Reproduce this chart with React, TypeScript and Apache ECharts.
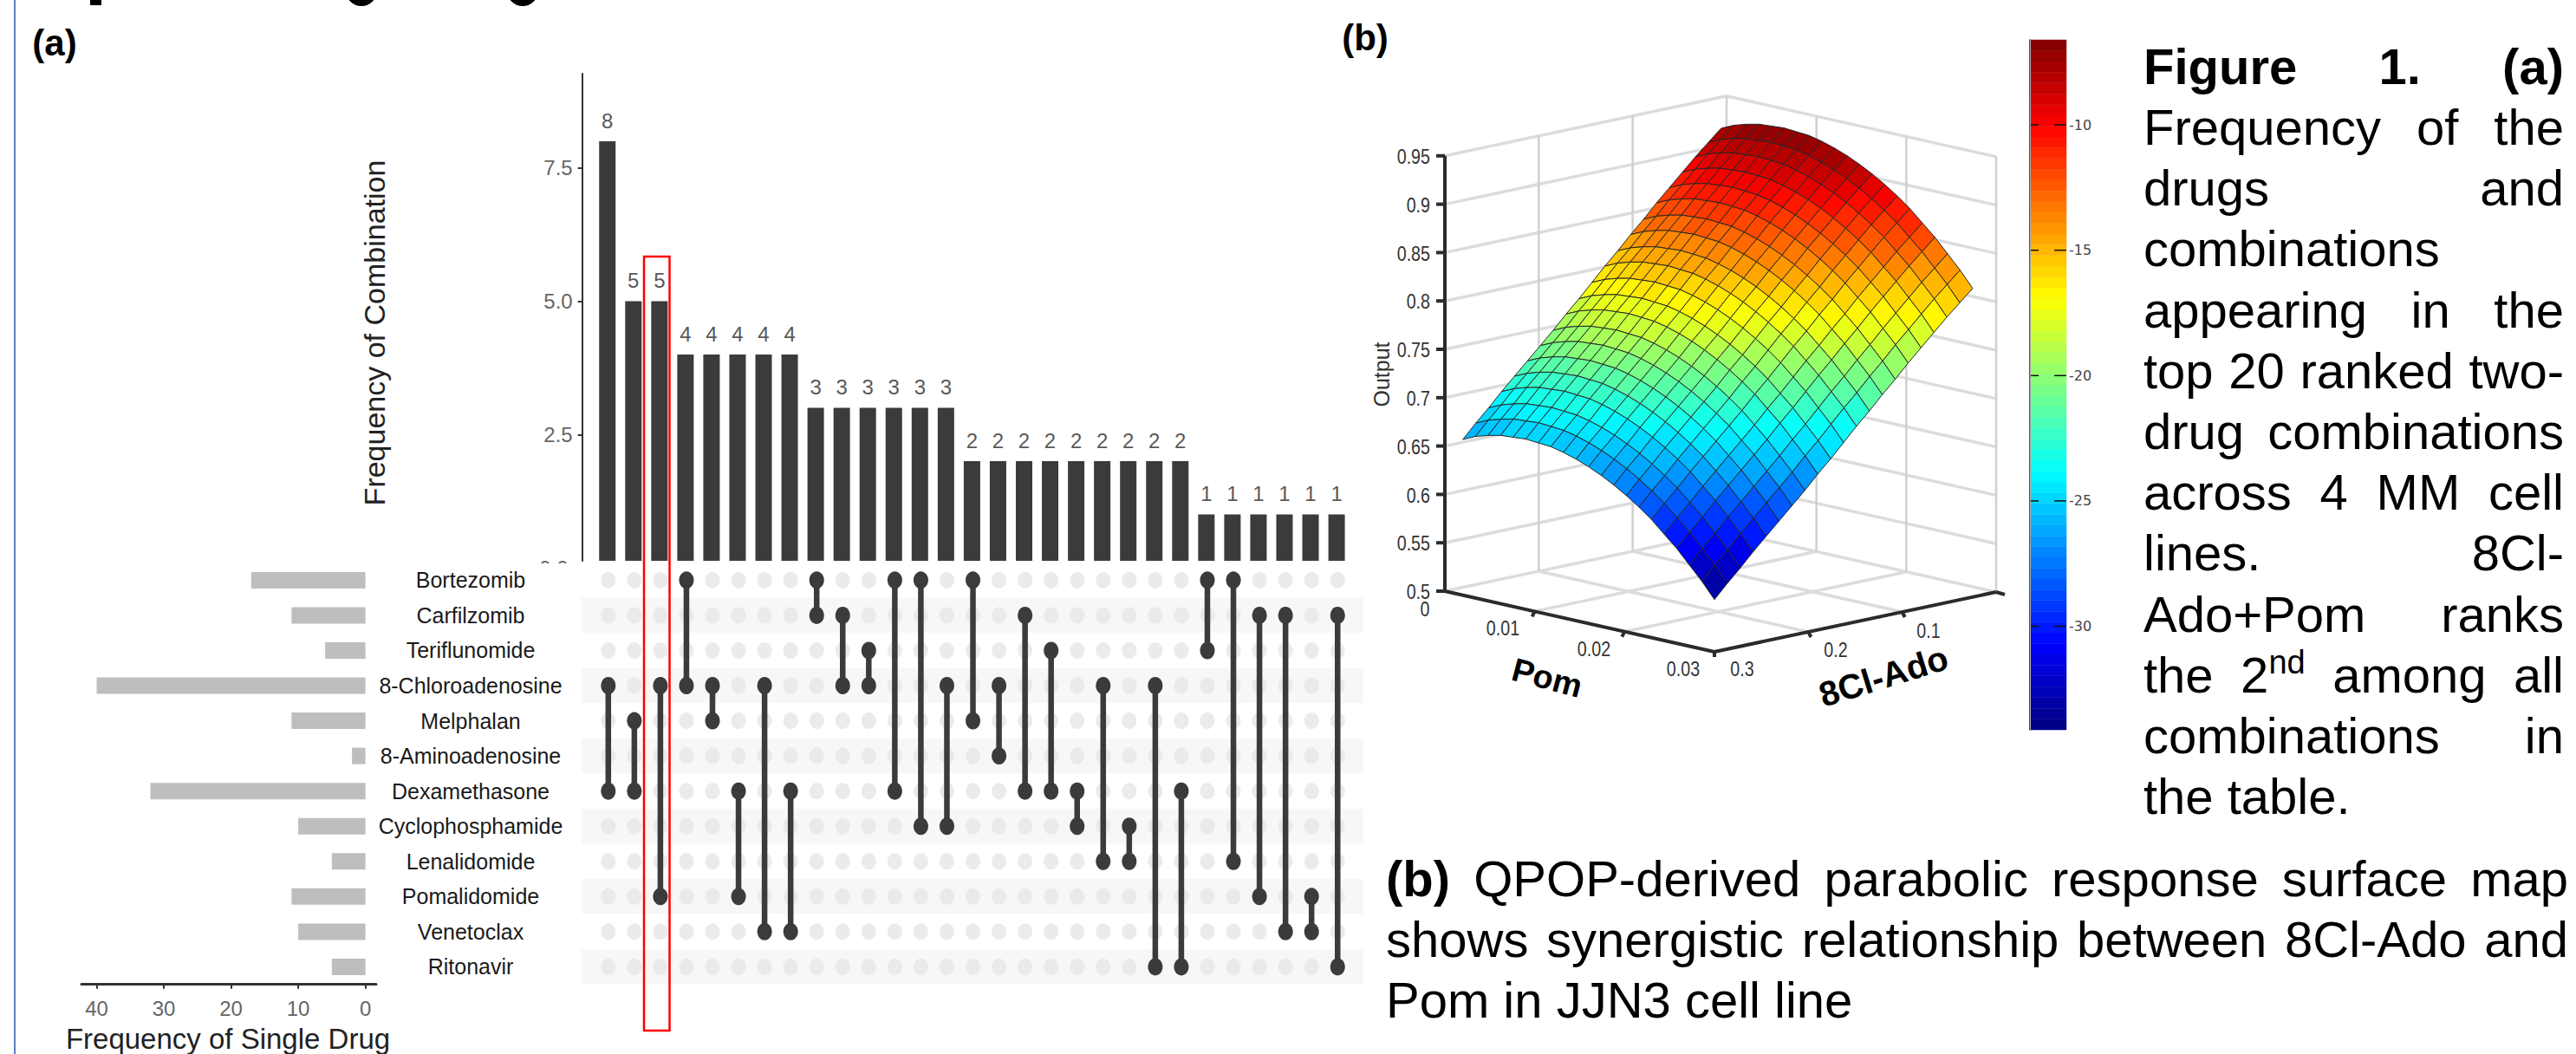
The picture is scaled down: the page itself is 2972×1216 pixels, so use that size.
import React, { useEffect, useRef } from "react";
import * as echarts from "echarts";

const WIDTH = 2972;
const HEIGHT = 1216;
const FONT = '"Liberation Sans", Arial, sans-serif';
const NARROW_SCALE = 0.82;

// ---------- (a) UpSet plot ----------
const drugs = [
  "Bortezomib", "Carfilzomib", "Teriflunomide", "8-Chloroadenosine", "Melphalan", "8-Aminoadenosine",
  "Dexamethasone", "Cyclophosphamide", "Lenalidomide", "Pomalidomide", "Venetoclax", "Ritonavir",
];
const singleDrugFrequency = [17, 11, 6, 40, 11, 2, 32, 10, 5, 11, 10, 5];
const combinationFrequency = [8, 5, 5, 4, 4, 4, 4, 4, 3, 3, 3, 3, 3, 3, 2, 2, 2, 2, 2, 2, 2, 2, 2, 1, 1, 1, 1, 1, 1];
const combinationPairs = [
  [3, 6], [4, 6], [3, 9], [0, 3], [3, 4], [6, 9], [3, 10], [6, 10], [0, 1], [1, 3],
  [2, 3], [0, 6], [0, 7], [3, 7], [0, 4], [3, 5], [1, 6], [2, 6], [6, 7], [3, 8],
  [7, 8], [3, 11], [6, 11], [0, 2], [0, 8], [1, 9], [1, 10], [9, 10], [1, 11],
];
const combinationTicks = [2.5, 5, 7.5];
const singleDrugTicks = [0, 10, 20, 30, 40];

// ---------- (b) response surface ----------
const pomLevels = [0.002, 0.0034, 0.0048, 0.0062, 0.0076, 0.009, 0.0104, 0.0118, 0.0132, 0.0146, 0.016, 0.0174, 0.0188, 0.0202, 0.0216, 0.023, 0.0244, 0.0258, 0.0272, 0.0286, 0.03];
const adoLevels = [0.025, 0.03875, 0.0525, 0.06625, 0.08, 0.09375, 0.1075, 0.12125, 0.135, 0.14875, 0.1625, 0.17625, 0.19, 0.20375, 0.2175, 0.23125, 0.245, 0.25875, 0.2725, 0.28625, 0.3];
const outputSurface = [
  [.926, .932, .936, .939, .940, .941, .940, .939, .936, .932, .927, .921, .914, .906, .897, .887, .875, .863, .849, .835, .819],
  [.914, .920, .924, .927, .928, .929, .928, .927, .924, .920, .915, .909, .902, .894, .885, .875, .863, .851, .837, .823, .807],
  [.902, .908, .912, .915, .916, .917, .916, .915, .912, .908, .903, .897, .890, .882, .873, .863, .851, .839, .825, .811, .795],
  [.889, .895, .899, .902, .903, .904, .903, .902, .899, .895, .890, .884, .877, .869, .860, .850, .838, .826, .812, .798, .782],
  [.876, .882, .886, .889, .890, .891, .890, .889, .886, .882, .877, .871, .864, .856, .847, .837, .825, .813, .799, .785, .769],
  [.863, .869, .873, .876, .877, .878, .877, .876, .873, .869, .864, .858, .851, .843, .834, .824, .812, .800, .786, .772, .756],
  [.849, .855, .859, .862, .863, .864, .863, .862, .859, .855, .850, .844, .837, .829, .820, .810, .798, .786, .772, .758, .742],
  [.836, .842, .846, .849, .850, .851, .850, .849, .846, .842, .837, .831, .824, .816, .807, .797, .785, .773, .759, .745, .729],
  [.822, .828, .832, .835, .836, .837, .836, .835, .832, .828, .823, .817, .810, .802, .793, .783, .771, .759, .745, .731, .715],
  [.809, .815, .819, .822, .823, .824, .823, .822, .819, .815, .810, .804, .797, .789, .780, .770, .758, .746, .732, .718, .702],
  [.795, .801, .805, .808, .809, .810, .809, .808, .805, .801, .796, .790, .783, .775, .766, .756, .744, .732, .718, .704, .688],
  [.781, .787, .791, .794, .795, .796, .795, .794, .791, .787, .782, .776, .769, .761, .752, .742, .730, .718, .704, .690, .674],
  [.768, .774, .778, .781, .782, .783, .782, .781, .778, .774, .769, .763, .756, .748, .739, .729, .717, .705, .691, .677, .661],
  [.754, .760, .764, .767, .768, .769, .768, .767, .764, .760, .755, .749, .742, .734, .725, .715, .703, .691, .677, .663, .647],
  [.741, .747, .751, .754, .755, .756, .755, .754, .751, .747, .742, .736, .729, .721, .712, .702, .690, .678, .664, .650, .634],
  [.728, .734, .738, .741, .742, .743, .742, .741, .738, .734, .729, .723, .716, .708, .699, .689, .677, .665, .651, .637, .621],
  [.715, .721, .725, .728, .729, .730, .729, .728, .725, .721, .716, .710, .703, .695, .686, .676, .664, .652, .638, .624, .608],
  [.702, .708, .712, .715, .716, .717, .716, .715, .712, .708, .703, .697, .690, .682, .673, .663, .651, .639, .625, .611, .595],
  [.688, .694, .698, .701, .702, .703, .702, .701, .698, .694, .689, .683, .676, .668, .659, .649, .637, .625, .611, .597, .581],
  [.675, .681, .685, .688, .689, .690, .689, .688, .685, .681, .676, .670, .663, .655, .646, .636, .624, .612, .598, .584, .568],
  [.661, .667, .671, .674, .675, .676, .675, .674, .671, .667, .662, .656, .649, .641, .632, .622, .610, .598, .584, .570, .554],
];
const outputTicks = [0.5, 0.55, 0.6, 0.65, 0.7, 0.75, 0.8, 0.85, 0.9, 0.95];
const pomTicks = [0.01, 0.02];
const adoTicks = [0.1, 0.2];
const colorbarTicks = [-10, -15, -20, -25, -30];

// ---------- captions ----------
const captionLines = [
  "Figure 1. (a)", "Frequency of the", "drugs and", "combinations", "appearing in the", "top 20 ranked two-",
  "drug combinations", "across 4 MM cell", "lines. 8Cl-", "Ado+Pom ranks", "the 2nd among all", "combinations in", "the table.",
];
const captionLeftAligned = ["combinations", "the table."];
const bottomLines = [
  "(b) QPOP-derived parabolic response surface map",
  "shows synergistic relationship between 8Cl-Ado and",
  "Pom in JJN3 cell line",
];

// ---------- projection of the 3D box onto the page plane ----------
const POM_MAX = 0.03;
const ADO_MAX = 0.3;
const Z_MIN = 0.5;
function project(pom: number, ado: number, z: number): [number, number] {
  const x = 1992 + (311 * pom) / POM_MAX - (325 * ado) / ADO_MAX;
  const y = 613 + (70 * pom) / POM_MAX + (69 * ado) / ADO_MAX - (z - Z_MIN) * 1116;
  return [x, y];
}

function jet(t: number): string {
  const c = (v: number) => Math.round(255 * Math.max(0, Math.min(1, v)));
  return `rgb(${c(1.5 - Math.abs(4 * t - 3))},${c(1.5 - Math.abs(4 * t - 2))},${c(1.5 - Math.abs(4 * t - 1))})`;
}
const zLow = outputSurface[20][20];
const zHigh = outputSurface[0][5];
const LEVELS = 64;
function surfaceColor(z: number): string {
  const t = (z - zLow) / (zHigh - zLow);
  const k = Math.min(LEVELS - 1, Math.floor(t * LEVELS));
  return jet((k + 0.5) / LEVELS);
}

const CB_MIN = -34.13;
const CB_MAX = -6.61;

// ---------- helpers ----------
function label(text: string, x: number, y: number, size: number, extra: any = {}) {
  const { rotation, z, weight, family, fill, align, scaleX } = extra;
  return {
    type: "text",
    x,
    y,
    rotation: rotation || 0,
    scaleX: scaleX || 1,
    z: z ?? 50,
    style: {
      text,
      fill: fill || "#000",
      fontFamily: family || FONT,
      fontSize: size,
      fontWeight: weight || "normal",
      align: align || "center",
      verticalAlign: "middle",
      textAlign: align || "center",
      textVerticalAlign: "middle",
    },
  };
}

function justified(lines: string[], left: number, right: number, firstBaseline: number, step: number, size: number, isLeft: (s: string) => boolean, boldWord: (w: string, line: number) => boolean) {
  const ctx = document.createElement("canvas").getContext("2d") as CanvasRenderingContext2D;
  const measure = (s: string, bold: boolean, sz: number) => {
    ctx.font = `${bold ? "bold " : ""}${sz}px "Liberation Sans"`;
    return ctx.measureText(s).width;
  };
  const out: any[] = [];
  const supSize = Math.round(size * 0.65);
  lines.forEach((line, n) => {
    const words = line.split(" ");
    const widths = words.map((w) => (w === "2nd" ? measure("2", false, size) + measure("nd", false, supSize) : measure(w, boldWord(w, n), size)));
    const sum = widths.reduce((a, b) => a + b, 0);
    const normalGap = measure(" ", false, size);
    const gap = isLeft(line) || words.length < 2 ? normalGap : (right - left - sum) / (words.length - 1);
    let x = left;
    const centerY = firstBaseline + n * step - size * 0.34;
    words.forEach((w, i) => {
      if (w === "2nd") {
        const w2 = measure("2", false, size);
        out.push(label("2", x, centerY, size, { align: "left" }));
        out.push(label("nd", x + w2, centerY - size * 0.24, supSize, { align: "left" }));
      } else {
        out.push(label(w, x, centerY, size, { align: "left", weight: boldWord(w, n) ? "bold" : "normal" }));
      }
      x += widths[i] + gap;
    });
  });
  return out;
}

function buildOption() {
  const cols = combinationFrequency.map((_, i) => i);
  const colNames = cols.map((c) => `C${c + 1}`);

  const backgroundDots: number[][] = [];
  cols.forEach((c) => drugs.forEach((_, r) => backgroundDots.push([c, r])));

  const comboSeries = combinationPairs.map(([a, b], c) => ({
    type: "line",
    xAxisIndex: 1,
    yAxisIndex: 1,
    data: [[c, drugs[a]], [c, drugs[b]]],
    symbol: "circle",
    symbolSize: [17, 20],
    showSymbol: true,
    lineStyle: { color: "#3b3b3b", width: 6.5 },
    itemStyle: { color: "#3b3b3b" },
    silent: true,
    z: 4,
  }));

  // box segments: [pom1, ado1, z1, pom2, ado2, z2, kind, dx, dy]
  const box: number[][] = [];
  outputTicks.forEach((z) => {
    box.push([0, ADO_MAX, z, 0, 0, z, 0, 0, 0]);
    box.push([0, 0, z, POM_MAX, 0, z, 0, 0, 0]);
  });
  pomTicks.forEach((p) => box.push([p, 0, Z_MIN, p, ADO_MAX, Z_MIN, 0, 0, 0]));
  adoTicks.forEach((a) => box.push([0, a, Z_MIN, POM_MAX, a, Z_MIN, 0, 0, 0]));
  [0.2, 0.1, 0].forEach((a) => box.push([0, a, Z_MIN, 0, a, 0.95, 1, 0, 0]));
  [0.01, 0.02, 0.03].forEach((p) => box.push([p, 0, Z_MIN, p, 0, 0.95, 1, 0, 0]));
  box.push([0, ADO_MAX, Z_MIN, 0, ADO_MAX, 0.95, 2, 0, 0]);
  box.push([0, ADO_MAX, Z_MIN, POM_MAX, ADO_MAX, Z_MIN, 2, 0, 0]);
  box.push([POM_MAX, ADO_MAX, Z_MIN, POM_MAX, 0, Z_MIN, 2, 0, 0]);
  outputTicks.forEach((z) => box.push([0, ADO_MAX, z, 0, ADO_MAX, z, 2, -10, 0]));
  pomTicks.forEach((p) => box.push([p, ADO_MAX, Z_MIN, p, ADO_MAX, Z_MIN, 2, -3, 6]));
  adoTicks.forEach((a) => box.push([POM_MAX, a, Z_MIN, POM_MAX, a, Z_MIN, 2, 3, 6]));
  box.push([POM_MAX, ADO_MAX, Z_MIN, POM_MAX, ADO_MAX, Z_MIN, 2, 0, 6]);
  box.push([POM_MAX, 0, Z_MIN, POM_MAX, 0, Z_MIN, 2, 10, 3]);

  const cells: number[][] = [];
  for (let j = 0; j < adoLevels.length - 1; j++) {
    for (let i = 0; i < pomLevels.length - 1; i++) cells.push([j, i, i + j]);
  }
  cells.sort((a, b) => a[2] - b[2]);

  const bands: number[][] = [];
  for (let k = 0; k < LEVELS; k++) bands.push([k]);

  const boxSeries = {
    type: "custom",
    xAxisIndex: 3,
    yAxisIndex: 3,
    silent: true,
    clip: false,
    z: 2,
    data: box,
    renderItem: (_: any, api: any) => {
      const v = (n: number) => api.value(n);
      const a = project(v(0), v(1), v(2));
      const b = project(v(3), v(4), v(5));
      const p1 = api.coord(a);
      const p2 = api.coord([b[0] + v(7), b[1] + v(8)]);
      const kind = v(6);
      return {
        type: "line",
        shape: { x1: p1[0], y1: p1[1], x2: p2[0], y2: p2[1] },
        style: {
          stroke: kind === 2 ? "#2b2b2b" : kind === 1 ? "#d0d0d0" : "#dcdcdc",
          lineWidth: kind === 2 ? 4 : kind === 1 ? 2.5 : 3.5,
          lineCap: "butt",
        },
        z2: kind === 2 ? 5 : 1,
      };
    },
  };

  const surfaceSeries = {
    type: "custom",
    xAxisIndex: 3,
    yAxisIndex: 3,
    silent: true,
    clip: false,
    z: 3,
    data: cells,
    renderItem: (_: any, api: any) => {
      const j = api.value(0);
      const i = api.value(1);
      const corners = [[j, i], [j, i + 1], [j + 1, i + 1], [j + 1, i]];
      const points = corners.map(([r, c]) => api.coord(project(pomLevels[c], adoLevels[r], outputSurface[r][c])));
      const mean = corners.reduce((s, [r, c]) => s + outputSurface[r][c], 0) / 4;
      return {
        type: "polygon",
        shape: { points },
        style: { fill: surfaceColor(mean), stroke: "#262626", lineWidth: 1 },
      };
    },
  };

  const colorbarSeries = {
    type: "custom",
    xAxisIndex: 4,
    yAxisIndex: 4,
    silent: true,
    clip: false,
    z: 2,
    data: bands,
    renderItem: (_: any, api: any) => {
      const k = api.value(0);
      const step = (CB_MAX - CB_MIN) / LEVELS;
      const lo = api.coord([0, CB_MIN + k * step]);
      const hi = api.coord([1, CB_MIN + (k + 1) * step]);
      const color = jet((k + 0.5) / LEVELS);
      return {
        type: "rect",
        shape: { x: lo[0], y: hi[1], width: hi[0] - lo[0], height: lo[1] - hi[1] },
        style: { fill: color, stroke: color, lineWidth: 0.5 },
      };
    },
  };

  const colorbarTickSeries = {
    type: "custom",
    xAxisIndex: 4,
    yAxisIndex: 4,
    silent: true,
    clip: false,
    z: 4,
    data: colorbarTicks.map((t) => [t]),
    renderItem: (_: any, api: any) => {
      const t = api.value(0);
      const l0 = api.coord([0, t]);
      const l1 = api.coord([0.24, t]);
      const r0 = api.coord([0.67, t]);
      const r1 = api.coord([1, t]);
      const stroke = { stroke: "#111", lineWidth: 1.5 };
      return {
        type: "group",
        children: [
          { type: "line", shape: { x1: l0[0], y1: l0[1], x2: l1[0], y2: l1[1] }, style: stroke },
          { type: "line", shape: { x1: r0[0], y1: r0[1], x2: r1[0], y2: r1[1] }, style: stroke },
        ],
      };
    },
  };

  const narrow = { scaleX: NARROW_SCALE, fill: "#333" };
  const graphics: any[] = [
    // page furniture
    { type: "line", shape: { x1: 17, y1: 0, x2: 17, y2: HEIGHT }, style: { stroke: "#5b7fc7", lineWidth: 2 }, z: 1 },
    { type: "rect", shape: { x: 104, y: 0, width: 13, height: 6 }, style: { fill: "#000" }, z: 1 },
    { type: "arc", shape: { cx: 417, cy: -11, r: 14, startAngle: 0, endAngle: Math.PI }, style: { stroke: "#000", lineWidth: 8, fill: "none" }, z: 1 },
    { type: "arc", shape: { cx: 603, cy: -11, r: 14, startAngle: 0, endAngle: Math.PI }, style: { stroke: "#000", lineWidth: 8, fill: "none" }, z: 1 },
    label("(a)", 63, 49, 42, { weight: "bold" }),
    label("(b)", 1575, 43, 42, { weight: "bold" }),

    // (a) names
    label("Frequency of Combination", 432, 384, 34, { rotation: Math.PI / 2, fill: "#222" }),
    label("Frequency of Single Drug", 263, 1198, 33, { fill: "#222" }),
    label("0.0", 639, 655, 24, { fill: "#666", z: 10 }),
    { type: "rect", shape: { x: 612, y: 650, width: 50, height: 18 }, style: { fill: "#fff" }, z: 11 },
    { type: "rect", shape: { x: 743, y: 296, width: 29.5, height: 893 }, style: { stroke: "#ff0000", lineWidth: 2.5, fill: "none" }, z: 60 },

    // (b) axis labels
    label("Output", 1594, 432, 25, { rotation: Math.PI / 2, fill: "#333" }),
    ...outputTicks.map((z) => {
      const [x, y] = project(0, ADO_MAX, z);
      return label(String(z), x - 17, y + 1, 24, { ...narrow, align: "right" });
    }),
    label("0", 1644, 703, 24, narrow),
    label("0.01", 1734, 725, 24, narrow),
    label("0.02", 1839, 749, 24, narrow),
    label("0.03", 1942, 772, 24, narrow),
    label("0.3", 2010, 772, 24, narrow),
    label("0.2", 2118, 750, 24, narrow),
    label("0.1", 2225, 728, 24, narrow),
    label("Pom", 1785, 782, 38, { weight: "bold", rotation: -0.26 }),
    label("8Cl-Ado", 2173, 780, 40, { weight: "bold", rotation: 0.3 }),

    // captions
    ...justified(captionLines, 2473, 2958, 96, 70.2, 58, (s) => captionLeftAligned.includes(s), (_w, n) => n === 0),
    ...justified(bottomLines, 1599, 2963, 1033, 70, 58, (s) => s.startsWith("Pom"), (w, n) => n === 0 && w === "(b)"),
  ];

  return {
    animation: false,
    backgroundColor: "#fff",
    grid: [
      { left: 685.7, top: 85, width: 871.4, height: 562 },
      { left: 671, top: 649.1, width: 902, height: 486.6 },
      { left: 94, top: 649.1, width: 340, height: 486.6 },
      { left: 1600, top: 60, width: 730, height: 740, show: false },
      { left: 2342, top: 46, width: 42, height: 796 },
    ],
    xAxis: [
      { gridIndex: 0, type: "category", data: colNames, show: false },
      { gridIndex: 1, type: "value", min: -1.025, max: 28.99, show: false },
      {
        gridIndex: 2,
        type: "value",
        inverse: true,
        min: -1.6,
        max: 42.26,
        position: "bottom",
        splitLine: { show: false },
        axisLine: { show: true, lineStyle: { color: "#333", width: 3 } },
        axisTick: { show: true, length: 5, customValues: singleDrugTicks, lineStyle: { color: "#333", width: 2 } },
        axisLabel: { customValues: singleDrugTicks, color: "#666", fontFamily: FONT, fontSize: 24, margin: 16 },
      },
      { gridIndex: 3, type: "value", min: 1600, max: 2330, show: false },
      { gridIndex: 4, type: "value", min: 0, max: 1, show: false },
    ],
    yAxis: [
      {
        gridIndex: 0,
        type: "value",
        min: 0.13,
        max: 9.27,
        offset: 14,
        splitLine: { show: false },
        axisLine: { show: true, onZero: false, lineStyle: { color: "#333", width: 2 } },
        axisTick: { show: true, length: 5, customValues: combinationTicks, lineStyle: { color: "#333", width: 2 } },
        axisLabel: { customValues: combinationTicks, color: "#666", fontFamily: FONT, fontSize: 24, margin: 11, formatter: (v: number) => v.toFixed(1) },
      },
      {
        gridIndex: 1,
        type: "category",
        inverse: true,
        data: drugs,
        axisLine: { show: false },
        axisTick: { show: false },
        splitLine: { show: false },
        splitArea: { show: true, areaStyle: { color: ["#ffffff", "#f7f7f7"] } },
        axisLabel: { color: "#1a1a1a", fontFamily: FONT, fontSize: 25, align: "center", margin: 128 },
      },
      { gridIndex: 2, type: "category", inverse: true, data: drugs, show: false },
      { gridIndex: 3, type: "value", inverse: true, min: 60, max: 800, show: false },
      {
        gridIndex: 4,
        type: "value",
        min: CB_MIN,
        max: CB_MAX,
        position: "right",
        splitLine: { show: false },
        axisLine: { show: true, lineStyle: { color: "#222", width: 1.5 } },
        axisTick: { show: false, customValues: colorbarTicks },
        axisLabel: { customValues: colorbarTicks, color: "#444", fontFamily: '"DejaVu Sans"', fontSize: 16, margin: 3 },
        z: 5,
      },
      {
        gridIndex: 4,
        type: "value",
        min: CB_MIN,
        max: CB_MAX,
        position: "left",
        splitLine: { show: false },
        axisLine: { show: true, lineStyle: { color: "#aaa", width: 1 } },
        axisTick: { show: false },
        axisLabel: { show: false },
        z: 5,
      },
    ],
    series: [
      {
        type: "bar",
        xAxisIndex: 0,
        yAxisIndex: 0,
        data: combinationFrequency,
        barWidth: 19,
        itemStyle: { color: "#3b3b3b" },
        label: { show: true, position: "top", distance: 12, color: "#595959", fontFamily: FONT, fontSize: 24 },
        silent: true,
      },
      {
        type: "scatter",
        xAxisIndex: 1,
        yAxisIndex: 1,
        data: backgroundDots,
        symbol: "circle",
        symbolSize: [17, 19],
        itemStyle: { color: "#e6e6e6" },
        silent: true,
        z: 3,
      },
      ...comboSeries,
      {
        type: "bar",
        xAxisIndex: 2,
        yAxisIndex: 2,
        data: singleDrugFrequency,
        barWidth: 19,
        itemStyle: { color: "#bebebe" },
        silent: true,
      },
      boxSeries,
      surfaceSeries,
      colorbarSeries,
      colorbarTickSeries,
    ],
    graphic: { elements: graphics },
  };
}

export default function App() {
  const ref = useRef<HTMLDivElement>(null);
  useEffect(() => {
    document.body.style.margin = "0";
    const chart = echarts.init(ref.current as HTMLDivElement, undefined, { renderer: "svg" });
    chart.setOption(buildOption() as any);
    return () => chart.dispose();
  }, []);
  return <div ref={ref} style={{ position: "fixed", left: 0, top: 0, width: WIDTH, height: HEIGHT }} />;
}
